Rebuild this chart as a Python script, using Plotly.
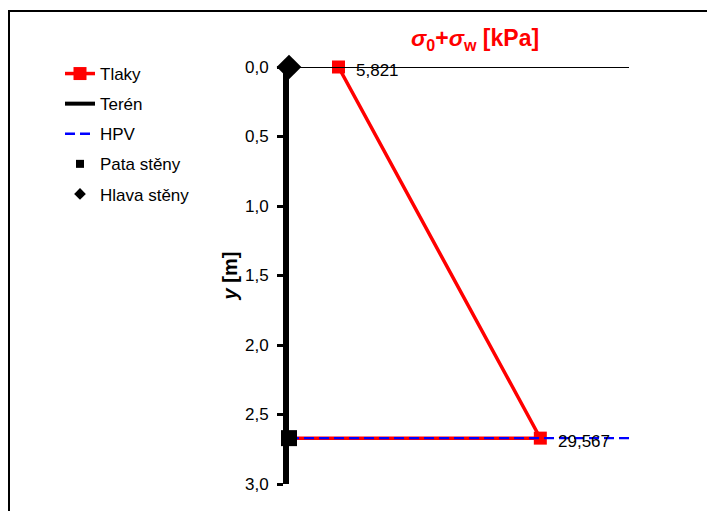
import plotly.graph_objects as go

# ---- data ----
tlaky_x = [5.821, 29.567, 0.0]
tlaky_y = [0.0, 2.67, 2.67]
teren_x = [0.0, 40.0]
teren_y = [0.0, 0.0]
hpv_x = [0.0, 40.0]
hpv_y = [2.67, 2.67]
pata_x = [0.0]
pata_y = [2.67]
hlava_x = [0.0]
hlava_y = [0.0]
label_idx = [0, 1]
y_ticks = [0.0, 0.5, 1.0, 1.5, 2.0, 2.5, 3.0]

FONT = "Arial, Liberation Sans, sans-serif"

# page body has an 8px margin: figure is offset by (8, 8)
OFF = 8
W, H = 715 - OFF, 511 - OFF
L, T = 289 - OFF, 67 - OFF
PW, PH = 340, 417


def px_x(px):
    return (px - OFF - L) / PW


def px_y(py):
    return 1 - (py - OFF - T) / PH


fig = go.Figure()

fig.add_trace(go.Scatter(
    x=tlaky_x, y=tlaky_y, name="Tlaky", mode="lines+markers",
    line=dict(color="#ff0000", width=3.5),
    marker=dict(symbol="square", size=13, color="#ff0000"),
    cliponaxis=False, legendgroup="a",
))
fig.add_trace(go.Scatter(
    x=teren_x, y=teren_y, name="Terén", mode="lines",
    line=dict(color="black", width=1.8),
    cliponaxis=False, showlegend=False, legendgroup="b",
))
fig.add_trace(go.Scatter(
    x=[None], y=[None], name="Terén", mode="lines",
    line=dict(color="black", width=4), legendgroup="b",
))
fig.add_trace(go.Scatter(
    x=hpv_x, y=hpv_y, name="HPV", mode="lines",
    line=dict(color="#0000ff", width=2.4, dash="10px,5px"),
    cliponaxis=False, legendgroup="c",
))
fig.add_trace(go.Scatter(
    x=pata_x, y=pata_y, name="Pata stěny", mode="markers",
    marker=dict(symbol="square", size=16, color="black"),
    cliponaxis=False, showlegend=False, legendgroup="d",
))
fig.add_trace(go.Scatter(
    x=hlava_x, y=hlava_y, name="Hlava stěny", mode="markers",
    marker=dict(symbol="diamond", size=19, color="black"),
    cliponaxis=False, showlegend=False, legendgroup="e",
))
# legend-only entries (smaller glyphs as in the original legend)
fig.add_trace(go.Scatter(
    x=[None], y=[None], name="Pata stěny", mode="markers",
    marker=dict(symbol="square", size=8, color="black"), legendgroup="d",
))
fig.add_trace(go.Scatter(
    x=[None], y=[None], name="Hlava stěny", mode="markers",
    marker=dict(symbol="diamond", size=9, color="black"), legendgroup="e",
))

value_labels = [
    dict(x=tlaky_x[i], y=tlaky_y[i], xref="x", yref="y",
         text=f"{tlaky_x[i]:.3f}".replace(".", ","),
         showarrow=False, xanchor="left", yanchor="middle",
         xshift=16, yshift=-3,
         font=dict(family=FONT, size=17, color="black"))
    for i in label_idx
]

fig.update_layout(
    width=W, height=H,
    margin=dict(l=L, r=W - L - PW, t=T, b=H - T - PH),
    paper_bgcolor="white", plot_bgcolor="white",
    font=dict(family=FONT, size=17, color="black"),
    separators=", ",
    showlegend=True,
    legend=dict(
        x=px_x(60), y=px_y(56),
        xanchor="left", yanchor="top",
        font=dict(family=FONT, size=17, color="black"),
        tracegroupgap=5, bgcolor="rgba(0,0,0,0)",
    ),
    xaxis=dict(
        range=[0, 40], side="top", showgrid=False, zeroline=False,
        showticklabels=False, ticks="", showline=False,
    ),
    yaxis=dict(
        range=[3, 0], showgrid=False, zeroline=False,
        showline=True, linecolor="black", linewidth=6,
        ticks="outside", ticklen=6, tickwidth=3, tickcolor="black",
        tickvals=y_ticks, tickformat=".1f", ticklabelstandoff=5,
        tickfont=dict(family=FONT, size=17, color="black"),
        title=dict(text="<b><i>y</i> [m]</b>", standoff=4,
                   font=dict(family=FONT, size=20, color="black")),
    ),
    annotations=value_labels + [dict(
        xref="paper", yref="paper",
        x=px_x(475), y=px_y(40),
        xanchor="center", yanchor="middle", showarrow=False,
        text="<b><i>σ</i><sub>0</sub>+<i>σ</i><sub>w</sub> [kPa]</b>",
        font=dict(family=FONT, size=23, color="#ff0000"),
    )],
    shapes=[dict(
        type="rect", xref="paper", yref="paper",
        x0=px_x(9), x1=px_x(740),
        y0=px_y(540), y1=px_y(11),
        line=dict(color="black", width=2), fillcolor="rgba(0,0,0,0)",
        layer="below",
    )],
)

fig.write_html("out.html")
